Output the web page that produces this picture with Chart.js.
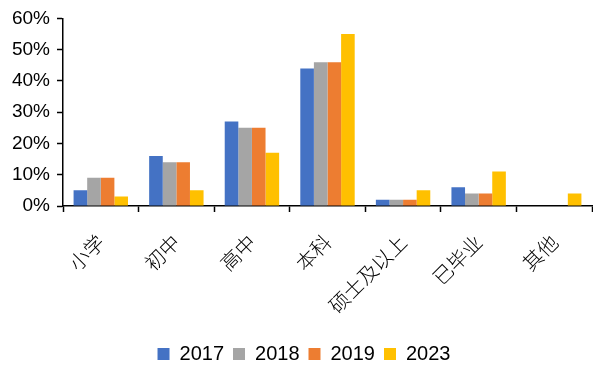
<!DOCTYPE html>
<html>
<head>
<meta charset="utf-8">
<script src="https://cdn.jsdelivr.net/npm/chart.js@4/dist/chart.umd.min.js"></script>
<style>
  html, body { margin: 0; padding: 0; background: #ffffff; }
  #wrap { width: 593px; height: 367px; }
</style>
</head>
<body>
<div id="wrap"><canvas id="chart" width="593" height="367"></canvas></div>
<script>
// Education level categories and shares (%) per survey year
const categories = ['小学', '初中', '高中', '本科', '硕士及以上', '已毕业', '其他'];
const years = ['2017', '2018', '2019', '2023'];
const values2017 = [5, 16, 27, 44, 2, 6, 0];
const values2018 = [9, 14, 25, 46, 2, 4, 0];
const values2019 = [9, 14, 25, 46, 2, 4, 0];
const values2023 = [3, 5, 17, 55, 5, 11, 4];
const yTicks = [0, 10, 20, 30, 40, 50, 60];

const seriesValues = [values2017, values2018, values2019, values2023];
const seriesColors = ['#4472C4', '#A5A5A5', '#ED7D31', '#FFC000'];

const latinFont = 'Arial, "Liberation Sans", sans-serif';
const cjkFont = '"Noto Sans CJK SC", sans-serif';

// Nudge the legend row a little to the right of the canvas centre
const legendShift = {
  id: 'legendShift',
  afterLayout(chart) {
    const lg = chart.legend;
    if (lg) { lg.left += 8; lg.right += 8; }
  }
};

new Chart(document.getElementById('chart'), {
  type: 'bar',
  data: {
    labels: categories,
    datasets: years.map((y, i) => ({
      label: y,
      data: seriesValues[i],
      backgroundColor: seriesColors[i],
      borderWidth: 0,
      categoryPercentage: 0.72,
      barPercentage: 1.0
    }))
  },
  plugins: [legendShift],
  options: {
    responsive: false,
    animation: false,
    devicePixelRatio: 1,
    layout: { padding: { top: 17, right: 1, left: 0, bottom: -7 } },
    plugins: {
      tooltip: { enabled: false },
      legend: {
        position: 'bottom',
        labels: {
          boxWidth: 12,
          boxHeight: 12,
          padding: 9,
          color: '#000000',
          font: { family: latinFont, size: 20 }
        }
      }
    },
    scales: {
      x: {
        grid: {
          drawOnChartArea: false,
          drawTicks: true,
          tickLength: 6,
          tickWidth: 1.5,
          tickColor: '#000000',
          offset: true
        },
        border: { display: true, color: '#000000', width: 1.5 },
        ticks: {
          minRotation: 45,
          maxRotation: 45,
          padding: 18,
          color: '#000000',
          font: { family: cjkFont, size: 20, weight: 300 }
        },
        afterFit: (scale) => { scale.height = 129; }
      },
      y: {
        min: 0,
        max: 60,
        afterBuildTicks: (scale) => { scale.ticks = yTicks.map(v => ({ value: v })); },
        grid: {
          drawOnChartArea: false,
          drawTicks: true,
          tickLength: 6,
          tickWidth: 1.5,
          tickColor: '#000000'
        },
        border: { display: true, color: '#000000', width: 1.5 },
        ticks: {
          padding: 7,
          color: '#000000',
          font: { family: latinFont, size: 19 },
          callback: (v) => v + '%'
        },
        afterFit: (scale) => { scale.width = 63; }
      }
    }
  }
});
</script>
</body>
</html>
